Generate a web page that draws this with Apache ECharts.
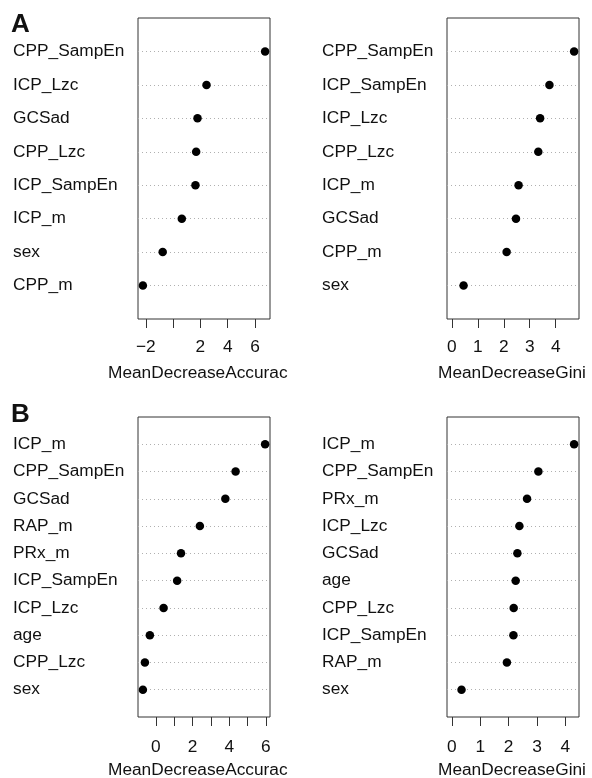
<!DOCTYPE html>
<html>
<head>
<meta charset="utf-8">
<script src="https://cdn.jsdelivr.net/npm/echarts@6/dist/echarts.min.js"></script>
<style>html,body{margin:0;padding:0;background:#fff}#c{width:592px;height:778px}</style>
</head>
<body>
<div id="c"></div>
<script>
// Panel A – MeanDecreaseAccuracy
var A_acc_labels = ['CPP_SampEn','ICP_Lzc','GCSad','CPP_Lzc','ICP_SampEn','ICP_m','sex','CPP_m'];
var A_acc_values = [6.74, 2.45, 1.79, 1.69, 1.64, 0.64, -0.76, -2.21];
var A_acc_ticks = [-2, 0, 2, 4, 6];
var A_acc_tickLabels = [-2, 2, 4, 6];
// Panel A – MeanDecreaseGini
var A_gini_labels = ['CPP_SampEn','ICP_SampEn','ICP_Lzc','CPP_Lzc','ICP_m','GCSad','CPP_m','sex'];
var A_gini_values = [4.71, 3.76, 3.40, 3.33, 2.57, 2.47, 2.11, 0.45];
var A_gini_ticks = [0, 1, 2, 3, 4];
var A_gini_tickLabels = [0, 1, 2, 3, 4];
// Panel B – MeanDecreaseAccuracy
var B_acc_labels = ['ICP_m','CPP_SampEn','GCSad','RAP_m','PRx_m','ICP_SampEn','ICP_Lzc','age','CPP_Lzc','sex'];
var B_acc_values = [5.96, 4.35, 3.79, 2.40, 1.37, 1.16, 0.42, -0.33, -0.60, -0.71];
var B_acc_ticks = [0, 1, 2, 3, 4, 5, 6];
var B_acc_tickLabels = [0, 2, 4, 6];
// Panel B – MeanDecreaseGini
var B_gini_labels = ['ICP_m','CPP_SampEn','PRx_m','ICP_Lzc','GCSad','age','CPP_Lzc','ICP_SampEn','RAP_m','sex'];
var B_gini_values = [4.31, 3.05, 2.65, 2.38, 2.31, 2.25, 2.18, 2.17, 1.94, 0.34];
var B_gini_ticks = [0, 1, 2, 3, 4];
var B_gini_tickLabels = [0, 1, 2, 3, 4];

var FONT = '"Liberation Sans", Arial, Helvetica, sans-serif';
var FS = 17.3;
var panels = [
  {labels: A_acc_labels, values: A_acc_values, ticks: A_acc_ticks, tl: A_acc_tickLabels, zero: false, grid: {left: 138, top: 18, width: 132, height: 301}, lm: 20},
  {labels: A_gini_labels, values: A_gini_values, ticks: A_gini_ticks, tl: A_gini_tickLabels, zero: true, grid: {left: 447, top: 18, width: 132, height: 301}, lm: 20},
  {labels: B_acc_labels, values: B_acc_values, ticks: B_acc_ticks, tl: B_acc_tickLabels, zero: false, grid: {left: 138, top: 417, width: 132, height: 300}, lm: 22},
  {labels: B_gini_labels, values: B_gini_values, ticks: B_gini_ticks, tl: B_gini_tickLabels, zero: true, grid: {left: 447, top: 417, width: 132, height: 300}, lm: 22}
];

var grids = [], xAxes = [], yAxes = [], series = [];
panels.forEach(function (p, k) {
  var n = p.values.length;
  var lo = p.zero ? 0 : Math.min.apply(null, p.values);
  var hi = Math.max.apply(null, p.values);
  var ext = (hi - lo) * 0.04;
  grids.push(Object.assign({show: true, borderColor: '#333', borderWidth: 1, backgroundColor: 'transparent'}, p.grid));
  xAxes.push({
    type: 'value', gridIndex: k, min: lo - ext, max: hi + ext,
    axisLine: {show: false, onZero: false},
    splitLine: {show: false},
    axisTick: {show: true, inside: false, length: 9, customValues: p.ticks, lineStyle: {color: '#333', width: 1}},
    axisLabel: {show: true, customValues: p.tl, margin: p.lm, fontSize: FS, color: '#111', fontFamily: FONT,
      formatter: function (v) { return String(v).replace('-', '\u2212'); }}
  });
  (function (labels) {
    yAxes.push({
      type: 'value', gridIndex: k, min: 0, max: n + 1, interval: 1,
      axisLine: {show: false}, axisTick: {show: false}, splitLine: {show: false},
      axisLabel: {show: true, align: 'left', margin: 125, fontSize: FS, color: '#111', fontFamily: FONT,
        formatter: function (v) { return (v >= 1 && v <= n) ? labels[n - v] : ''; }}
    });
  })(p.labels);
  var rows = [];
  for (var r = 1; r <= n; r++) rows.push({yAxis: r});
  // dotted guide lines (drawn beneath the dots)
  series.push({
    type: 'scatter', xAxisIndex: k, yAxisIndex: k, data: [], z: 1, silent: true,
    markLine: {silent: true, symbol: ['none', 'none'], label: {show: false}, animation: false,
      lineStyle: {type: [1, 3], color: '#b0b0b0', width: 1}, data: rows}
  });
  series.push({
    type: 'scatter', xAxisIndex: k, yAxisIndex: k, symbol: 'circle', symbolSize: 8.5,
    itemStyle: {color: '#000', opacity: 1},
    data: p.values.map(function (v, i) { return [v, n - i]; }),
    z: 5
  });
});

var chart = echarts.init(document.getElementById('c'), null, {renderer: 'canvas'});
chart.setOption({
  animation: false,
  backgroundColor: '#fff',
  grid: grids, xAxis: xAxes, yAxis: yAxes, series: series,
  graphic: [
    {type: 'text', left: 11, top: 12, style: {text: 'A', fontSize: 26, fontWeight: 'bold', fill: '#111', fontFamily: FONT}},
    {type: 'text', left: 11, top: 402, style: {text: 'B', fontSize: 26, fontWeight: 'bold', fill: '#111', fontFamily: FONT}},
    {type: 'text', left: 108, top: 365, style: {text: 'MeanDecreaseAccurac', fontSize: FS, fill: '#111', fontFamily: FONT}},
    {type: 'text', left: 438, top: 365, style: {text: 'MeanDecreaseGini', fontSize: FS, fill: '#111', fontFamily: FONT}},
    {type: 'text', left: 108, top: 762, style: {text: 'MeanDecreaseAccurac', fontSize: FS, fill: '#111', fontFamily: FONT}},
    {type: 'text', left: 438, top: 762, style: {text: 'MeanDecreaseGini', fontSize: FS, fill: '#111', fontFamily: FONT}}
  ]
});
</script>
</body>
</html>
